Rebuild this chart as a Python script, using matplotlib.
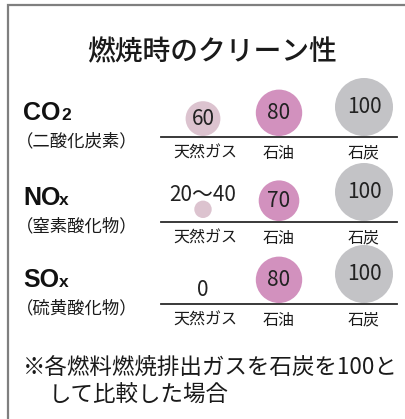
import matplotlib.pyplot as plt
from matplotlib.patches import Circle

plt.rcParams['font.family'] = ['Noto Sans CJK JP', 'DejaVu Sans']

# data
title = '燃焼時のクリーン性'
fuels = ['天然ガス', '石油', '石炭']
gases = ['CO', 'NO', 'SO']
gas_suffix = ['2', 'x', 'x']
gas_names = ['（二酸化炭素）', '（窒素酸化物）', '（硫黄酸化物）']
co2 = [60, 80, 100]
nox = [30, 70, 100]
sox = [0, 80, 100]
co2_labels = ['60', '80', '100']
nox_labels = ['20〜40', '70', '100']
sox_labels = ['0', '80', '100']
note = ['※各燃料燃焼排出ガスを石炭を100と', 'して比較した場合']

colors = ['#dcc3cf', '#d291be', '#c3c3c6']

W, H = 406, 419
fig = plt.figure(figsize=(W / 100, H / 100), dpi=100)
ax = fig.add_axes([0, 0, 1, 1])
ax.set_xlim(0, W)
ax.set_ylim(H, 0)
ax.axis('off')

# frame (cropped on right/bottom)
ax.plot([8, 8, W], [H, 5.5, 5.5], color='#7f7f7f', lw=1.6, solid_joinstyle='miter')

ax.text(212, 52, title, ha='center', va='center', fontsize=20,
        fontweight='medium', color='#1a1a1a')

rows = [(co2, co2_labels), (nox, nox_labels), (sox, sox_labels)]
base_y = [137, 222, 304]
col_x = [203, 279, 364]
scale = 0.58  # px diameter per unit
suffix_x = [61, 59, 59]

for i, (vals, labels) in enumerate(rows):
    y0 = base_y[i]
    ax.plot([161, 397], [y0, y0], color='#2a2a2a', lw=1.3)
    # row label
    ax.text(23, y0 - 17, gases[i], ha='left', va='baseline', fontsize=18,
            fontweight='bold', family='Liberation Sans', color='#111111')
    ax.text(suffix_x[i], y0 - 17, gas_suffix[i], ha='left', va='baseline',
            fontsize=12.5, fontweight='bold', family='Liberation Sans', color='#111111')
    ax.text(16, y0 + 4, gas_names[i], ha='left', va='center', fontsize=12.5,
            color='#1a1a1a')
    for j, v in enumerate(vals):
        d = v * scale
        x = col_x[j]
        lab = labels[j]
        if v > 0:
            cy = y0 - 1 - d / 2
            if lab != str(v):
                cy = y0 - 4 - d / 2
            ax.add_patch(Circle((x, cy), d / 2, color=colors[j], lw=0))
        if v > 0 and lab == str(v):
            ty = cy
        elif v > 0:
            ty = y0 - 27
        else:
            ty = y0 - 14
        ax.text(x, ty, lab, ha='center', va='center', fontsize=15,
                color='#222222')
        ax.text(col_x[j] if j else 205, y0 + 16, fuels[j], ha='center',
                va='center', fontsize=11.5, color='#1a1a1a')

ax.text(23, 367, note[0], ha='left', va='center', fontsize=16.2, color='#1a1a1a')
ax.text(49, 395, note[1], ha='left', va='center', fontsize=16.2, color='#1a1a1a')

fig.savefig('out.png', dpi=100)
